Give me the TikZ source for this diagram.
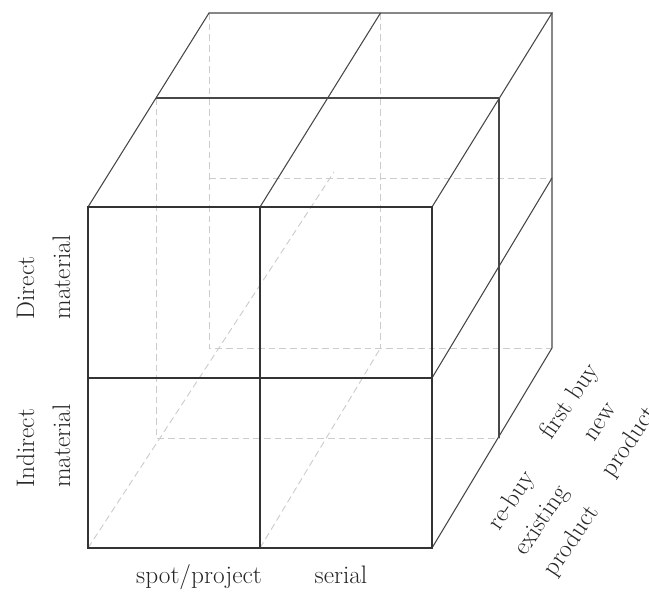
\documentclass[tikz,border=0pt]{standalone}
\begin{document}
\begin{tikzpicture}[x=0.75pt,y=-0.75pt,
  frontline/.style={draw=black!80, line width=1.3pt},
  edgeline/.style={draw=black!72, line width=0.8pt},
  hiddenline/.style={draw=black!20, line width=0.7pt, dash pattern=on 5pt off 3pt},
  lab/.style={font=\fontsize{19}{27}\selectfont, inner sep=0pt, text=black!85}]
\useasboundingbox (0,0) rectangle (649,592);

% front layer (columns 0,1,2 ; rows 0 bottom .. 2 top)
\coordinate (F00) at (88,548);  \coordinate (F10) at (260,548); \coordinate (F20) at (432,548);
\coordinate (F01) at (88,378);  \coordinate (F11) at (260,378); \coordinate (F21) at (432,378);
\coordinate (F02) at (88,207);  \coordinate (F12) at (260,207); \coordinate (F22) at (432,207);
% middle layer
\coordinate (M00) at (156,438); \coordinate (M20) at (499,438);
\coordinate (M02) at (156,98);  \coordinate (M22) at (499,98);
% back layer
\coordinate (B00) at (209,348); \coordinate (B10) at (380.5,348); \coordinate (B20) at (552,348);
\coordinate (B01) at (209,178); \coordinate (B21) at (552,178);
\coordinate (B02) at (209,13);  \coordinate (B12) at (380.5,13);  \coordinate (B22) at (552,13);
\coordinate (Dend) at (334,172);

% hidden edges
\draw[hiddenline] (B02) -- (B00) -- (B20);
\draw[hiddenline] (B12) -- (B10);
\draw[hiddenline] (B01) -- (B21);
\draw[hiddenline] (M02) -- (M00) -- (M20);
\draw[hiddenline] (F00) -- (Dend);
\draw[hiddenline] (F10) -- (B10);

% top face
\draw[edgeline] (F02) -- (B02) -- (B22) -- (F22);
\draw[edgeline] (F12) -- (B12);
\draw[edgeline] (M02) -- (M22);
% right face
\draw[edgeline] (B22) -- (B20) -- (F20);
\draw[edgeline] (F21) -- (B21);
\draw[edgeline] (M22) -- (M20);

% front face
\draw[frontline] (F00) rectangle (F22);
\draw[frontline] (F10) -- (F12);
\draw[frontline] (F01) -- (F21);

% labels
\node[lab, rotate=90, align=left] (direct) at (43.5,277.5) {Direct\\material};
\node[lab, rotate=90, align=left] (indirect) at (43.5,446) {Indirect\\material};
\node[lab, anchor=base] (spot) at (199,583) {spot/project};
\node[lab, anchor=base] (serial) at (341,583) {serial};
\node[lab, rotate=56, align=center] (rebuy) at (542,521) {re-buy\\existing\\product};
\node[lab, rotate=56, align=center] (firstbuy) at (600,422) {first buy\\new\\product};
\end{tikzpicture}
\end{document}
